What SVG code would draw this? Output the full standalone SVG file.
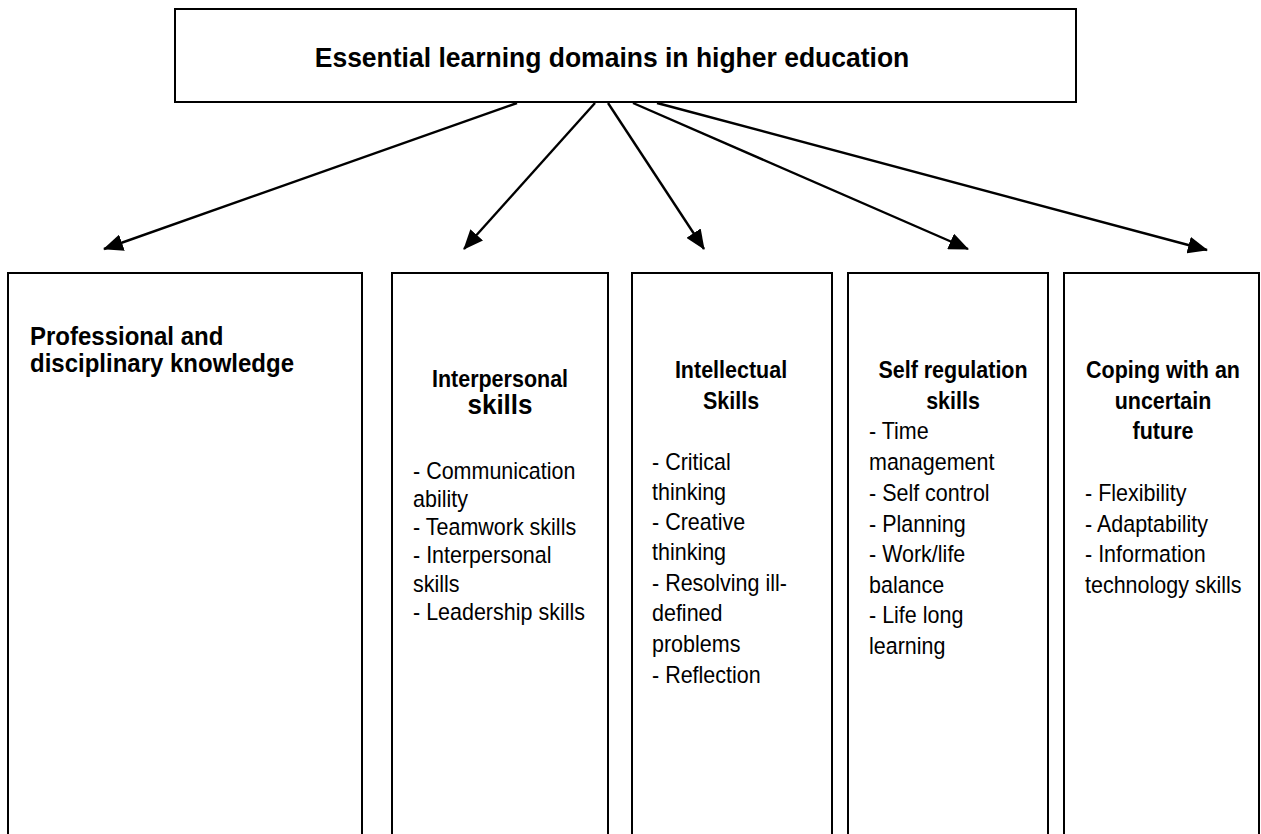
<svg xmlns="http://www.w3.org/2000/svg" width="1261" height="834" viewBox="0 0 1261 834">
  <style>
    .box { fill: #fff; stroke: #000; stroke-width: 2; }
    .wire { stroke: #000; stroke-width: 2.4; fill: none; marker-end: url(#head); }
    .h { font-family: "Liberation Sans", Arial, sans-serif; font-weight: bold; fill: #000; }
    .r { font-family: "Liberation Sans", Arial, sans-serif; fill: #000; font-size: 21.5px; }
    .c { text-anchor: middle; }
  </style>
  <defs>
    <marker id="head" viewBox="0 0 20 17" refX="19" refY="8.5" markerWidth="20" markerHeight="17" markerUnits="userSpaceOnUse" orient="auto">
      <path d="M0,0 L20,8.5 L0,17 Z" fill="#000"/>
    </marker>
  </defs>

  <!-- root -->
  <g id="root">
    <rect class="box" x="175" y="9" width="901" height="93"/>
    <text class="h c" font-size="26.5" transform="translate(612 67) scale(1 1.02)">Essential learning domains in higher education</text>
  </g>

  <!-- connectors from the root to each domain -->
  <g id="connectors">
    <line class="wire" x1="517" y1="103" x2="104" y2="249"/>
    <line class="wire" x1="595" y1="103" x2="464" y2="249"/>
    <line class="wire" x1="608" y1="103" x2="704" y2="249"/>
    <line class="wire" x1="633" y1="103" x2="968" y2="249"/>
    <line class="wire" x1="657" y1="103" x2="1207" y2="250"/>
  </g>

  <g id="professional">
    <rect class="box" x="8" y="273" width="354" height="580"/>
    <text class="h" font-size="24" transform="translate(30 345) scale(1 1.1)">Professional and</text>
    <text class="h" font-size="24" transform="translate(30 372) scale(1 1.1)">disciplinary knowledge</text>
  </g>

  <g id="interpersonal">
    <rect class="box" x="392" y="273" width="216" height="580"/>
    <text class="h c" font-size="21.5" transform="translate(500 387) scale(1 1.12)">Interpersonal</text>
    <text class="h c" font-size="26" transform="translate(500 414) scale(1 1.05)">skills</text>
    <text class="r" transform="translate(413 479) scale(1 1.12)">- Communication</text>
    <text class="r" transform="translate(413 507) scale(1 1.12)">ability</text>
    <text class="r" transform="translate(413 535) scale(1 1.12)">- Teamwork skills</text>
    <text class="r" transform="translate(413 563) scale(1 1.12)">- Interpersonal</text>
    <text class="r" transform="translate(413 592) scale(1 1.12)">skills</text>
    <text class="r" transform="translate(413 620) scale(1 1.12)">- Leadership skills</text>
  </g>

  <g id="intellectual">
    <rect class="box" x="632" y="273" width="200" height="580"/>
    <text class="h c" font-size="21.5" transform="translate(731 378) scale(1 1.12)">Intellectual</text>
    <text class="h c" font-size="21.5" transform="translate(731 409) scale(1 1.12)">Skills</text>
    <text class="r" transform="translate(652 470) scale(1 1.12)">- Critical</text>
    <text class="r" transform="translate(652 500) scale(1 1.12)">thinking</text>
    <text class="r" transform="translate(652 530) scale(1 1.12)">- Creative</text>
    <text class="r" transform="translate(652 560) scale(1 1.12)">thinking</text>
    <text class="r" transform="translate(652 591) scale(1 1.12)">- Resolving ill-</text>
    <text class="r" transform="translate(652 621) scale(1 1.12)">defined</text>
    <text class="r" transform="translate(652 652) scale(1 1.12)">problems</text>
    <text class="r" transform="translate(652 683) scale(1 1.12)">- Reflection</text>
  </g>

  <g id="self-regulation">
    <rect class="box" x="848" y="273" width="200" height="580"/>
    <text class="h c" font-size="21.5" transform="translate(953 378) scale(1 1.12)">Self regulation</text>
    <text class="h c" font-size="21.5" transform="translate(953 409) scale(1 1.12)">skills</text>
    <text class="r" transform="translate(869 439) scale(1 1.12)">- Time</text>
    <text class="r" transform="translate(869 470) scale(1 1.12)">management</text>
    <text class="r" transform="translate(869 501) scale(1 1.12)">- Self control</text>
    <text class="r" transform="translate(869 532) scale(1 1.12)">- Planning</text>
    <text class="r" transform="translate(869 562) scale(1 1.12)">- Work/life</text>
    <text class="r" transform="translate(869 593) scale(1 1.12)">balance</text>
    <text class="r" transform="translate(869 623) scale(1 1.12)">- Life long</text>
    <text class="r" transform="translate(869 654) scale(1 1.12)">learning</text>
  </g>

  <g id="coping">
    <rect class="box" x="1064" y="273" width="195" height="580"/>
    <text class="h c" font-size="21.5" transform="translate(1163 378) scale(1 1.12)">Coping with an</text>
    <text class="h c" font-size="21.5" transform="translate(1163 409) scale(1 1.12)">uncertain</text>
    <text class="h c" font-size="21.5" transform="translate(1163 439) scale(1 1.12)">future</text>
    <text class="r" transform="translate(1085 501) scale(1 1.12)">- Flexibility</text>
    <text class="r" transform="translate(1085 532) scale(1 1.12)">- Adaptability</text>
    <text class="r" transform="translate(1085 562) scale(1 1.12)">- Information</text>
    <text class="r" transform="translate(1085 593) scale(1 1.12)">technology skills</text>
  </g>
</svg>
